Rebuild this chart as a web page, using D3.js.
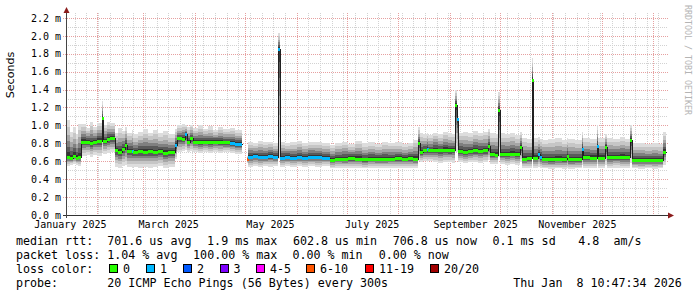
<!DOCTYPE html>
<html>
<head>
<meta charset="utf-8">
<script src="https://cdn.jsdelivr.net/npm/d3@7"></script>
<style>
    body { margin: 0; background: #fff; }
    svg { display: block; font-family: "DejaVu Sans Mono", monospace; }
    .grid-minor { stroke: #d2d2d2; stroke-dasharray: 1,1; shape-rendering: crispEdges; }
    .grid-major { stroke: #e6a0a0; stroke-dasharray: 1,1; shape-rendering: crispEdges; }
    .legend text { font-size: 11.66px; white-space: pre; fill: #000; }
</style>
</head>
<body>
<div id="chart"></div>
<script>

// one sample per step, values in ms; smoke = spread of the 20 pings
const sampleDays = [
    "2025-01-14", "2025-01-16", "2025-01-18", "2025-01-20", "2025-01-21",
    "2025-01-23", "2025-01-26", "2025-01-28", "2025-01-30", "2025-02-01", "2025-02-04", "2025-02-05", "2025-02-07", "2025-02-09",
    "2025-02-12", "2025-02-14", "2025-02-16", "2025-02-18", "2025-02-19", "2025-02-22", "2025-02-23", "2025-02-26", "2025-03-01", "2025-03-04", "2025-03-07", "2025-03-10", "2025-03-13", "2025-03-16",
    "2025-03-20", "2025-03-21", "2025-03-24", "2025-03-26", "2025-03-27", "2025-03-29", "2025-03-31", "2025-04-03", "2025-04-06", "2025-04-09", "2025-04-12", "2025-04-15", "2025-04-18", "2025-04-22", "2025-04-25",
    "2025-04-29", "2025-05-02",
    "2025-05-03", "2025-05-06", "2025-05-09", "2025-05-12", "2025-05-15", "2025-05-18", "2025-05-21", "2025-05-22", "2025-05-25", "2025-05-28", "2025-06-01", "2025-06-04", "2025-06-08", "2025-06-12", "2025-06-16",
    "2025-06-21", "2025-06-24", "2025-06-28", "2025-07-02", "2025-07-06", "2025-07-10", "2025-07-14", "2025-07-18", "2025-07-22", "2025-07-26", "2025-07-30", "2025-08-03", "2025-08-07", "2025-08-10", "2025-08-13",
    "2025-08-14", "2025-08-16", "2025-08-18", "2025-08-19", "2025-08-22", "2025-08-25", "2025-08-28", "2025-08-31", "2025-09-02", "2025-09-04", "2025-09-05",
    "2025-09-06", "2025-09-09", "2025-09-12", "2025-09-15", "2025-09-18", "2025-09-21", "2025-09-24",
    "2025-09-25", "2025-09-28", "2025-09-30", "2025-10-01", "2025-10-04", "2025-10-07", "2025-10-10", "2025-10-13",
    "2025-10-14", "2025-10-17", "2025-10-20", "2025-10-21", "2025-10-24", "2025-10-25", "2025-10-26", "2025-10-30", "2025-11-03", "2025-11-07", "2025-11-10", "2025-11-11",
    "2025-11-15", "2025-11-19", "2025-11-20", "2025-11-24", "2025-11-28", "2025-11-29", "2025-12-03", "2025-12-04", "2025-12-08", "2025-12-12", "2025-12-15", "2025-12-18",
    "2025-12-19", "2025-12-23", "2025-12-27", "2025-12-31", "2026-01-04", "2026-01-07"
];

const medianRtt = [
    0.65, 0.64, 0.66, 0.64, 0.65,
    0.82, 0.82, 0.80, 0.82, 0.83, 1.08, 0.83, 0.85, 0.86,
    0.72, 0.70, 0.74, 0.78, 0.71, 0.71, 0.70, 0.71, 0.70, 0.71, 0.70, 0.71, 0.69, 0.70,
    0.78, 0.855, 0.85, 0.90, 0.82, 0.855, 0.82, 0.81, 0.82, 0.81, 0.82, 0.82, 0.81, 0.80, 0.79,
    null, 0.62,
    0.65, 0.66, 0.65, 0.65, 0.66, 0.65, 1.85, 0.64, 0.65, 0.64, 0.65, 0.64, 0.65, 0.65, 0.64,
    0.615, 0.63, 0.63, 0.635, 0.63, 0.62, 0.63, 0.63, 0.625, 0.63, 0.635, 0.63, 0.635, 0.63, 0.80,
    0.70, 0.72, 0.735, 0.72, 0.73, 0.72, 0.73, 0.72, 0.725, 1.23, 1.07,
    0.71, 0.70, 0.71, 0.72, 0.71, 0.72, 0.77,
    0.68, 0.675, 1.17, 0.68, 0.68, 0.685, 0.68, 0.76,
    0.63, 0.635, 1.51, 0.64, 0.68, 0.65, 0.625, 0.62, 0.625, 0.625, 0.66, 0.62,
    0.62, 0.74, 0.645, 0.64, 0.77, 0.64, 0.76, 0.65, 0.65, 0.65, 0.65, 0.84,
    0.613, 0.615, 0.61, 0.615, 0.61, 0.705
];

const smokeLow = [
    0.55, 0.56, 0.57, 0.56, 0.55,
    0.66, 0.67, 0.65, 0.67, 0.66, 0.70, 0.68, 0.69, 0.70,
    0.54, 0.53, 0.55, 0.56, 0.54, 0.53, 0.54, 0.53, 0.54, 0.53, 0.54, 0.55, 0.53, 0.54,
    0.62, 0.70, 0.71, 0.72, 0.70, 0.71, 0.70, 0.69, 0.70, 0.69, 0.70, 0.69, 0.70, 0.69, 0.68,
    null, 0.58,
    0.54, 0.55, 0.54, 0.55, 0.54, 0.55, 0.62, 0.54, 0.55, 0.54, 0.55, 0.54, 0.55, 0.54, 0.55,
    0.52, 0.53, 0.52, 0.53, 0.53, 0.52, 0.53, 0.52, 0.53, 0.53, 0.52, 0.53, 0.53, 0.52, 0.60,
    0.59, 0.60, 0.59, 0.60, 0.59, 0.58, 0.59, 0.59, 0.58, 0.70, 0.70,
    0.59, 0.58, 0.59, 0.59, 0.58, 0.59, 0.61,
    0.57, 0.57, 0.65, 0.57, 0.56, 0.57, 0.56, 0.59,
    0.52, 0.52, 0.62, 0.52, 0.54, 0.52, 0.52, 0.51, 0.52, 0.51, 0.52, 0.51,
    0.52, 0.56, 0.52, 0.52, 0.57, 0.52, 0.56, 0.52, 0.53, 0.52, 0.52, 0.58,
    0.52, 0.51, 0.52, 0.51, 0.52, 0.56
];

const smokeHigh = [
    1.06, 0.93, 0.98, 0.90, 1.02,
    1.02, 0.97, 1.04, 0.98, 1.03, 1.27, 1.00, 1.04, 1.03,
    0.92, 0.97, 0.94, 0.98, 0.92, 0.95, 0.90, 0.93, 0.96, 0.92, 0.95, 0.91, 0.94, 0.90,
    0.96, 1.00, 1.02, 1.00, 0.98, 1.01, 0.97, 1.00, 0.96, 0.99, 0.95, 0.98, 0.96, 0.97, 0.95,
    null, 0.66,
    0.82, 0.80, 0.83, 0.81, 0.82, 0.80, 2.03, 0.82, 0.80, 0.81, 0.83, 0.80, 0.82, 0.81, 0.80,
    0.78, 0.80, 0.82, 0.79, 0.83, 0.80, 0.81, 0.79, 0.82, 0.80, 0.81, 0.79, 0.80, 0.84, 0.98,
    0.91, 0.90, 0.92, 0.89, 0.92, 0.90, 0.93, 0.91, 0.90, 1.39, 1.20,
    0.92, 0.93, 0.91, 0.94, 0.92, 0.93, 0.96,
    0.91, 0.90, 1.37, 0.91, 0.90, 0.92, 0.89, 0.93,
    0.86, 0.85, 1.75, 0.86, 0.87, 0.85, 0.84, 0.85, 0.86, 0.84, 0.86, 0.85,
    0.84, 0.93, 0.86, 0.85, 1.00, 0.86, 0.90, 0.86, 0.85, 0.87, 0.85, 1.00,
    0.80, 0.80, 0.79, 0.80, 0.79, 0.93
];

// lost pings out of 20
const lostPings = [
    0, 0, 0, 0, 0,
    0, 0, 0, 0, 0, 0, 0, 0, 0,
    0, 0, 0, 0, 0, 1, 0, 0, 0, 0, 0, 0, 0, 0,
    1, 0, 0, 1, 0, 0, 0, 0, 0, 0, 0, 0, 0, 1, 1,
    0, 8,
    1, 1, 1, 1, 1, 1, 1, 1, 1, 1, 1, 1, 1, 1, 1,
    0, 0, 0, 0, 0, 0, 0, 0, 0, 0, 0, 0, 0, 0, 0,
    0, 0, 1, 0, 0, 0, 0, 0, 0, 0, 1,
    0, 0, 0, 0, 0, 0, 0,
    0, 0, 0, 0, 0, 0, 0, 0,
    0, 0, 0, 0, 1, 1, 0, 0, 0, 0, 0, 0,
    0, 1, 0, 0, 1, 0, 0, 0, 0, 0, 0, 0,
    0, 0, 0, 0, 0, 0
];

const lossLabels = ["0", "1", "2", "3", "4-5", "6-10", "11-19", "20/20"];
const lossLimits = [0, 1, 2, 3, 5, 10, 19, 20];
const lossColors = ["#26ff00", "#00b8ff", "#0059ff", "#7e00ff", "#ff00ff", "#ff5500", "#ff0000", "#a10000"];

const yLabelValues = [0, 0.2, 0.4, 0.6, 0.8, 1.0, 1.2, 1.4, 1.6, 1.8, 2.0, 2.2];
const yMinorValues = [0.1, 0.3, 0.5, 0.7, 0.9, 1.1, 1.3, 1.5, 1.7, 1.9, 2.1];
const graphStart = "2025-01-13T17:00:00Z";
const graphEnd = "2026-01-08T12:00:00Z";

class SmokeChart {

    constructor(_parentElement) {
        this.parentElement = _parentElement;
        this.initVis();
    }

    initVis() {
        let vis = this;

        vis.width = 697;
        vis.height = 297;
        vis.left = 66;
        vis.right = 666;
        vis.bottom = 215;
        vis.top = 13;

        vis.svg = d3.select("#" + vis.parentElement).append("svg")
            .attr("width", vis.width)
            .attr("height", vis.height);

        vis.svg.append("rect")
            .attr("width", vis.width)
            .attr("height", vis.height)
            .attr("fill", "#fff");

        vis.start = new Date(graphStart);
        vis.end = new Date(graphEnd);

        vis.x = d3.scaleUtc().domain([vis.start, vis.end]).range([vis.left, vis.right]);
        vis.y = d3.scaleLinear().domain([0, (vis.bottom - vis.top) / 89.6]).range([vis.bottom, vis.top]);

        vis.wrangleData();
    }

    wrangleData() {
        let vis = this;
        let parse = d3.utcParse("%Y-%m-%d");

        vis.samples = sampleDays.map((d, i) => ({
            t: parse(d),
            next: i < sampleDays.length - 1 ? parse(sampleDays[i + 1]) : vis.end,
            med: medianRtt[i],
            lo: smokeLow[i],
            hi: smokeHigh[i],
            loss: lostPings[i]
        }));

        vis.updateVis();
    }

    lossColor(n) {
        let idx = lossLimits.findIndex(l => n <= l);
        return lossColors[idx];
    }

    updateVis() {
        let vis = this;
        let px = v => Math.round(v) + 0.5;

        // grid
        let grid = vis.svg.append("g");

        grid.selectAll(".hminor").data(yMinorValues).enter().append("line")
            .attr("class", "grid-minor")
            .attr("x1", vis.left).attr("x2", vis.right + 2)
            .attr("y1", d => px(vis.y(d))).attr("y2", d => px(vis.y(d)));

        grid.selectAll(".vminor").data(d3.utcSunday.range(vis.start, vis.end)).enter().append("line")
            .attr("class", "grid-minor")
            .attr("x1", d => px(vis.x(d))).attr("x2", d => px(vis.x(d)))
            .attr("y1", vis.top).attr("y2", vis.bottom);

        grid.selectAll(".hmajor").data(yLabelValues.slice(1)).enter().append("line")
            .attr("class", "grid-major")
            .attr("x1", vis.left - 3).attr("x2", vis.right + 2)
            .attr("y1", d => px(vis.y(d))).attr("y2", d => px(vis.y(d)));

        grid.selectAll(".vmajor").data(d3.utcMonth.range(vis.start, vis.end)).enter().append("line")
            .attr("class", "grid-major")
            .attr("x1", d => px(vis.x(d))).attr("x2", d => px(vis.x(d)))
            .attr("y1", vis.top).attr("y2", vis.bottom + 2);

        // smoke, outer band first
        let shades = [
            [1.0, "#dddddd"], [0.8, "#c6c6c6"], [0.6, "#a6a6a6"],
            [0.42, "#808080"], [0.26, "#5a5a5a"], [0.12, "#363636"]
        ];
        let valid = vis.samples.filter(d => d.med !== null);

        shades.forEach(([f, color]) => {
            vis.svg.append("g")
                .selectAll("rect")
                .data(valid)
                .enter().append("rect")
                .attr("shape-rendering", "crispEdges")
                .attr("fill", color)
                .attr("x", d => Math.round(vis.x(d.t)))
                .attr("width", d => Math.max(1, Math.round(vis.x(d.next)) - Math.round(vis.x(d.t))))
                .attr("y", d => Math.round(vis.y(d.med + (d.hi - d.med) * f)))
                .attr("height", d => Math.max(1,
                    Math.round(vis.y(d.med - (d.med - d.lo) * f)) - Math.round(vis.y(d.med + (d.hi - d.med) * f))));
        });

        // thin dark median line (shows on the steps)
        let steps = [];
        vis.samples.forEach(d => {
            steps.push({t: d.t, v: d.med});
            steps.push({t: d.next, v: d.med});
        });
        let line = d3.line()
            .defined(d => d.v !== null)
            .x(d => Math.round(vis.x(d.t)) + 0.5)
            .y(d => px(vis.y(d.v)));

        vis.svg.append("path")
            .attr("d", line(steps))
            .attr("fill", "none")
            .attr("stroke", "#202020")
            .attr("stroke-width", 1)
            .attr("shape-rendering", "crispEdges");

        // loss coloured median
        vis.svg.append("g")
            .selectAll("line")
            .data(valid)
            .enter().append("line")
            .attr("x1", d => Math.round(vis.x(d.t)))
            .attr("x2", d => Math.max(Math.round(vis.x(d.t)) + 2, Math.round(vis.x(d.next))))
            .attr("y1", d => px(vis.y(d.med)))
            .attr("y2", d => px(vis.y(d.med)))
            .attr("stroke", d => vis.lossColor(d.loss))
            .attr("stroke-width", 3)
            .attr("shape-rendering", "crispEdges");

        // axis labels
        let yAxis = d3.axisLeft(vis.y)
            .tickValues(yLabelValues)
            .tickSize(0)
            .tickPadding(5)
            .tickFormat(d => d3.format(".1f")(d) + " m");

        vis.svg.append("g")
            .attr("transform", `translate(${vis.left},0)`)
            .call(yAxis)
            .call(g => g.select(".domain").remove())
            .selectAll("text")
            .attr("font-family", "DejaVu Sans Mono")
            .attr("font-size", 10)
            .attr("fill", "#000");

        let labelDays = d3.utcMonth.every(2).range(new Date("2025-01-01T00:00:00Z"), vis.end)
            .map(d => d3.utcDay.offset(d, 15))
            .filter(d => d < vis.end);

        let xAxis = d3.axisBottom(vis.x)
            .tickValues(labelDays)
            .tickSize(0)
            .tickPadding(6)
            .tickFormat(d3.utcFormat("%B %Y"));

        vis.svg.append("g")
            .attr("transform", `translate(0,${vis.bottom})`)
            .call(xAxis)
            .call(g => g.select(".domain").remove())
            .selectAll("text")
            .attr("font-family", "DejaVu Sans Mono")
            .attr("font-size", 10)
            .attr("fill", "#000");

        // axis lines and arrows
        vis.svg.append("line")
            .attr("x1", vis.left - 3).attr("x2", vis.right + 3)
            .attr("y1", vis.bottom + 0.5).attr("y2", vis.bottom + 0.5)
            .attr("stroke", "#333").attr("shape-rendering", "crispEdges");
        vis.svg.append("line")
            .attr("x1", vis.left + 0.5).attr("x2", vis.left + 0.5)
            .attr("y1", vis.bottom + 3).attr("y2", vis.top - 2)
            .attr("stroke", "#444").attr("shape-rendering", "crispEdges");
        vis.svg.append("path")
            .attr("d", `M${vis.right + 2},${vis.bottom - 2.5}L${vis.right + 8},${vis.bottom + 0.5}L${vis.right + 2},${vis.bottom + 3.5}Z`)
            .attr("fill", "#8b1c1c");
        vis.svg.append("path")
            .attr("d", `M${vis.left - 2.5},${vis.top}L${vis.left + 0.5},${vis.top - 6}L${vis.left + 3.5},${vis.top}Z`)
            .attr("fill", "#8b1c1c");

        // unit label and watermark
        vis.svg.append("text")
            .attr("transform", "translate(14,75) rotate(-90)")
            .attr("text-anchor", "middle")
            .attr("font-family", "DejaVu Sans")
            .attr("font-size", 11.1)
            .text("Seconds");

        vis.svg.append("text")
            .attr("transform", "translate(685,5) rotate(90)")
            .attr("font-size", 8.3)
            .attr("fill", "#b4b4b4")
            .text("RRDTOOL / TOBI OETIKER");

        vis.drawLegend();
    }

    drawLegend() {
        let vis = this;
        let legend = vis.svg.append("g").attr("class", "legend");

        let rows = [
            [244.7, [[16, "median rtt:  701.6 us avg"], [207.1, "1.9 ms max"], [292.9, "602.8 us min"],
                     [392.7, "706.8 us now"], [492.5, "0.1 ms sd"], [571.3, " 4.8  am/s"]]],
            [259, [[16, "packet loss: 1.04 % avg"], [193.1, "100.00 % max"], [292.4, "0.00 % min"],
                   [378.7, "0.00 % now"]]],
            [273.3, [[16, "loss color:"]]],
            [287.3, [[16, "probe:"], [107.3, "20 ICMP Echo Pings (56 Bytes) every 300s"],
                     [513.3, "Thu Jan  8 10:47:34 2026"]]]
        ];

        rows.forEach(([y, items]) => {
            items.forEach(([x, txt]) => {
                legend.append("text").attr("x", x).attr("y", y).text(txt);
            });
        });

        let boxX = [109, 146, 183, 219.5, 256, 306, 365, 430];
        lossLabels.forEach((lab, i) => {
            legend.append("rect")
                .attr("x", Math.round(boxX[i]) + 0.5)
                .attr("y", 264.5)
                .attr("width", 8)
                .attr("height", 8)
                .attr("fill", lossColors[i])
                .attr("stroke", "#000")
                .attr("shape-rendering", "crispEdges");
            legend.append("text")
                .attr("x", boxX[i] + 14)
                .attr("y", 273.3)
                .text(lab);
        });
    }
}

new SmokeChart("chart");

</script>
</body>
</html>
